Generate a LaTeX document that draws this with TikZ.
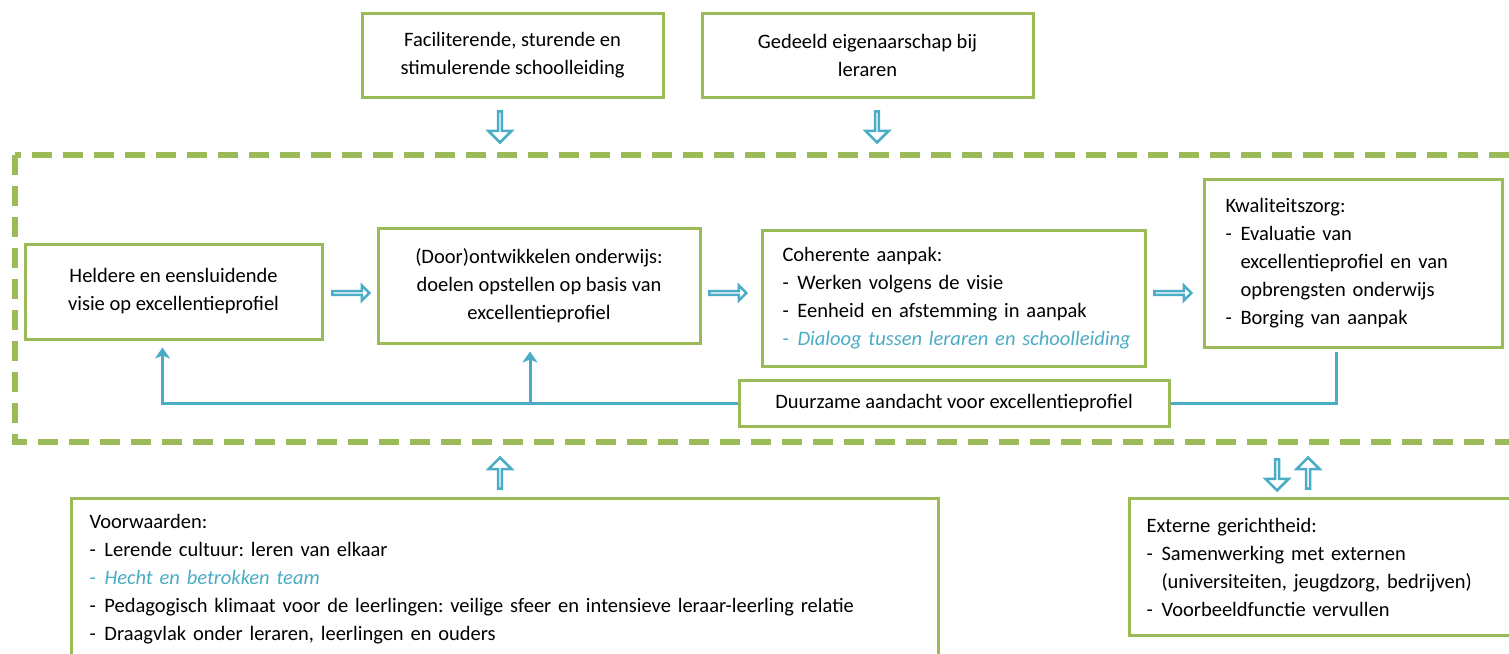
\documentclass[tikz,border=0pt]{standalone}
\usepackage{fontspec}
\setmainfont{Carlito}
\usetikzlibrary{
  positioning,
  arrows.meta,
  shapes.arrows,
  calc
}
\definecolor{kadergroen}{HTML}{9BBB59}
\definecolor{pijlblauw}{HTML}{4BACC6}
\newcommand{\lid}{\makebox[15pt][l]{-}}
\newcommand{\inspring}{\hspace*{15pt}}
\frenchspacing

\begin{document}
\begin{tikzpicture}[
  x=1pt, y=-1pt,
  blok/.style={draw=kadergroen, line width=3pt, fill=white, align=center,
               inner sep=0pt, font=\fontsize{20.5}{28}\selectfont},
  lijst/.style={blok, align=left, anchor=north west, inner xsep=20pt},
  blokpijl/.style={draw=pijlblauw, line width=2.5pt, fill=white, single arrow,
                   inner sep=0pt},
  hpijl/.style={blokpijl, minimum height=37pt, minimum width=15pt,
                single arrow head extend=4pt},
  vpijl/.style={blokpijl, minimum height=31pt, minimum width=23pt,
                single arrow head extend=6pt},
  terug/.style={draw=pijlblauw, line width=3pt},
  pijlkop/.style={-{Stealth[length=11pt,width=15pt,inset=3pt]}, shorten >=7pt},
]
  \useasboundingbox (0,0) rectangle (1509,653);
  \clip (0,0) rectangle (1509,653);

  % Gestippeld kader rond de cyclus
  \draw[kadergroen, line width=6pt, dash pattern=on 20pt off 11pt]
    (15,155) rectangle (1560,442);

  % Bovenste blokken
  \node[blok, minimum width=301pt, minimum height=84pt] (leiding) at (512.5,55)
    {Faciliterende, sturende en\\stimulerende schoolleiding};
  \node[blok, minimum width=331pt, minimum height=84pt] (eigenaar) at (867.5,55)
    {Gedeeld eigenaarschap bij\\leraren};

  % Cyclus
  \node[blok, minimum width=297pt, minimum height=95pt] (visie) at (173.5,291.5)
    {Heldere en eensluidende\\visie op excellentieprofiel};
  \node[blok, minimum width=322pt, minimum height=115pt] (ontwikkel) at (539,285.5)
    {(Door)ontwikkelen onderwijs:\\doelen opstellen op basis van\\excellentieprofiel};
  \node[lijst, text width=343pt, minimum height=136pt] (aanpak) at (761,229)
    {Coherente aanpak:\\
     \lid Werken volgens de visie\\
     \lid Eenheid en afstemming in aanpak\\
     \mbox{\textcolor{pijlblauw}{\lid\textit{Dialoog tussen leraren en schoolleiding}}}};
  \node[lijst, inner xsep=21pt, text width=256pt, minimum height=168pt] (zorg) at (1203,178)
    {Kwaliteitszorg:\\
     \lid Evaluatie van\\
     \inspring excellentieprofiel en van\\
     \inspring opbrengsten onderwijs\\
     \lid Borging van aanpak};
  \node[blok, minimum width=430pt, minimum height=46pt] (duurzaam) at (954,403)
    {Duurzame aandacht voor excellentieprofiel};

  % Onderste blokken
  \node[lijst, inner xsep=18pt, text width=831pt, minimum height=162pt] (voorwaarden) at (70,497)
    {Voorwaarden:\\
     \lid Lerende cultuur: leren van elkaar\\
     \textcolor{pijlblauw}{\lid\textit{Hecht en betrokken team}}\\
     \lid Pedagogisch klimaat voor de leerlingen: veilige sfeer en intensieve leraar-leerling relatie\\
     \lid Draagvlak onder leraren, leerlingen en ouders};
  \node[lijst, inner xsep=17pt, text width=398pt, minimum height=137pt] (extern) at (1128,497)
    {Externe gerichtheid:\\
     \lid Samenwerking met externen\\
     \inspring (universiteiten, jeugdzorg, bedrijven)\\
     \lid Voorbeeldfunctie vervullen};

  % Blokpijlen
  \node[vpijl, rotate=-90] (pijlA) at (500,126) {};
  \node[vpijl, rotate=-90] (pijlB) at (877,126) {};
  \node[hpijl] (pijl1) at (350,293) {};
  \node[hpijl] (pijl2) at (727,293) {};
  \node[hpijl] (pijl3) at (1172,293) {};
  \node[vpijl, rotate=90] (pijlC) at (500,474) {};
  \node[vpijl, rotate=-90] (pijlD) at (1277,474) {};
  \node[vpijl, rotate=90] (pijlE) at (1308,474) {};

  % Terugkoppeling
  \coordinate (zorgvoet) at (1336,352);
  \draw[terug] (zorgvoet) |- (duurzaam.east);
  \draw[terug, pijlkop] (duurzaam.west) -| ([xshift=-11pt]visie.south);
  \draw[terug, pijlkop] ([xshift=-9pt]ontwikkel.south |- duurzaam.west) -- ([xshift=-9pt]ontwikkel.south);

\end{tikzpicture}
\end{document}
